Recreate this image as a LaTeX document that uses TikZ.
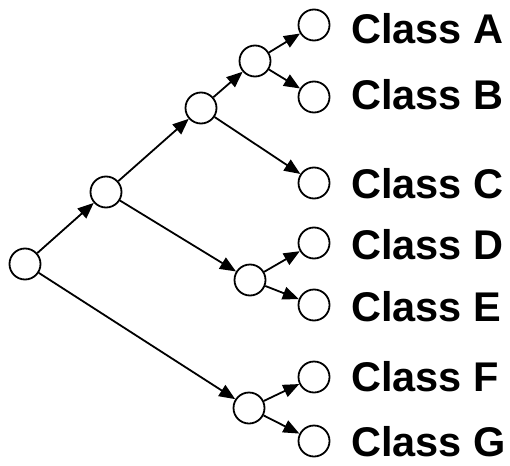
\documentclass[tikz,border=0pt]{standalone}
\usepackage{fontspec}
\setmainfont{Liberation Sans}
\usetikzlibrary{arrows.meta}
\begin{document}
\begin{tikzpicture}[x=1pt,y=-1pt,
  dot/.style={circle,draw,line width=1.8pt,minimum size=31pt,inner sep=0pt,fill=white},
  edge/.style={line width=1.8pt,-{Triangle[length=16pt,width=13pt]}},
  lbl/.style={anchor=west,inner sep=0pt,font=\fontsize{41.5pt}{46pt}\selectfont\bfseries}]
\useasboundingbox (0,0) rectangle (510,465);
% inner nodes
\node[dot] (r)  at (25,264) {};
\node[dot] (n1) at (106,192) {};
\node[dot] (n2) at (201,108) {};
\node[dot] (n3) at (255,61) {};
\node[dot] (n4) at (250,280) {};
\node[dot] (n5) at (249,408) {};
% leaves
\node[dot] (a) at (314,25) {};
\node[dot] (b) at (314,97) {};
\node[dot] (c) at (314,183) {};
\node[dot] (d) at (314,243) {};
\node[dot] (e) at (314,305) {};
\node[dot] (f) at (314,377) {};
\node[dot] (g) at (314,441) {};
% edges
\draw[edge] (r) -- (n1);
\draw[edge] (r) -- (n5);
\draw[edge] (n1) -- (n2);
\draw[edge] (n1) -- (n4);
\draw[edge] (n2) -- (n3);
\draw[edge] (n2) -- (c);
\draw[edge] (n3) -- (a);
\draw[edge] (n3) -- (b);
\draw[edge] (n4) -- (d);
\draw[edge] (n4) -- (e);
\draw[edge] (n5) -- (f);
\draw[edge] (n5) -- (g);
% labels
\node[lbl] (la) at (351,29) {Class A};
\node[lbl] (lb) at (351,95) {Class B};
\node[lbl] (lc) at (351,184) {Class C};
\node[lbl] (ld) at (351,245) {Class D};
\node[lbl] (le) at (351,307) {Class E};
\node[lbl] (lf) at (351,377) {Class F};
\node[lbl] (lg) at (351,442) {Class G};
\end{tikzpicture}
\end{document}
